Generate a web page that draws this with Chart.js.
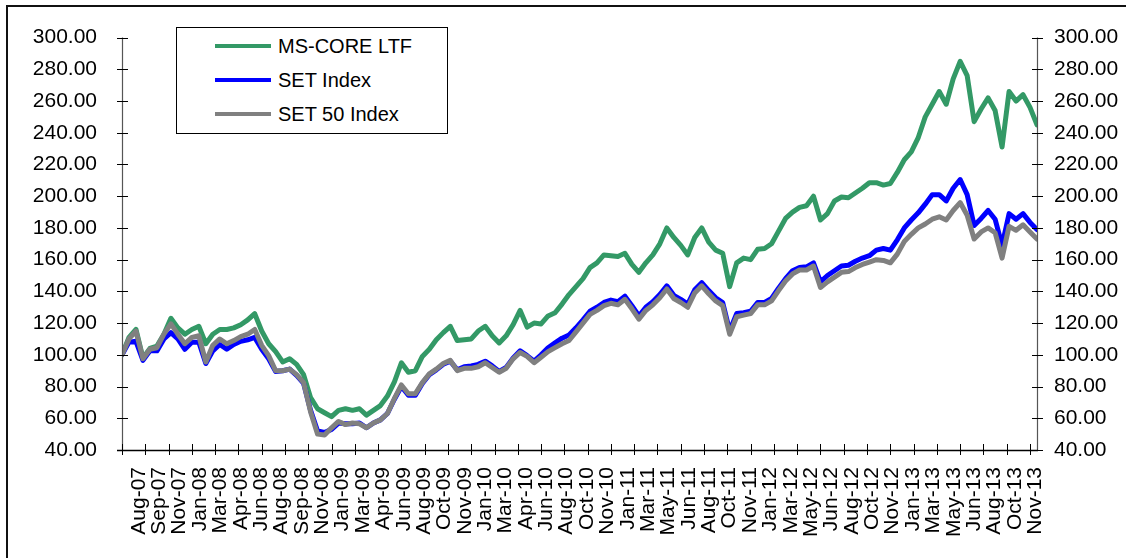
<!DOCTYPE html>
<html><head><meta charset="utf-8">
<script src="https://cdn.jsdelivr.net/npm/chart.js@4.4.1/dist/chart.umd.min.js"></script>
<style>
html,body{margin:0;padding:0;background:#fff;overflow:hidden;width:1126px;height:558px;}
#wrap{position:relative;width:1126px;height:558px;overflow:hidden;}
#frame{position:absolute;left:6px;top:5px;width:1300px;height:800px;border-left:2px solid #111;border-top:2px solid #111;pointer-events:none;}
canvas{position:absolute;left:0;top:0;}
#legend{position:absolute;left:176px;top:27px;width:272px;height:107px;border:1px solid #000;background:#fff;box-sizing:border-box;font:20px 'Liberation Sans',Arial,sans-serif;color:#000;}
.item{position:absolute;left:38px;height:30px;display:flex;align-items:center;white-space:nowrap;}
.swatch{width:56px;height:4px;margin-right:7px;}
</style></head>
<body><div id="wrap"><div id="frame"></div><canvas id="c" width="1126" height="558"></canvas><div id="legend"></div></div>
<script>
const seriesNames = ['MS-CORE LTF', 'SET Index', 'SET 50 Index'];

const msCore = [
 100, 111, 116, 98, 104, 105.5, 113, 123, 117, 113,
 116, 118, 107, 113, 116, 116, 117, 119, 122, 126,
 115, 107, 102, 95.5, 97.5, 94, 87.5, 73, 66, 63.5,
 61, 65, 66, 65, 66, 62, 65, 68, 74, 83,
 95, 89, 90, 99, 103.5, 109.5, 114, 118, 109, 109.5,
 110, 115, 118, 112, 107.5, 112, 119, 128, 117.5, 120,
 119.5, 124.5, 126.5, 132, 138, 143, 148, 155, 158, 163,
 162.5, 162, 164, 157, 152, 158, 163, 170, 180, 174,
 169, 163, 174, 180, 171, 166, 164, 143, 158, 161,
 160, 166.5, 167, 170, 178, 186, 190, 193, 194, 200,
 185, 189, 197, 199.5, 199, 202, 205, 208.5, 208.5, 207,
 208, 215, 223, 228, 237, 250, 258, 266, 258, 274,
 285, 276, 247, 255, 262, 254, 231, 266, 260, 264,
 256, 245
];

const setIndex = [
 100, 108, 108.5, 96.5, 102.5, 102.5, 110, 114, 110, 103.5,
 108, 108, 94.5, 102.5, 106.5, 103.5, 106.5, 108.5, 109.5, 111,
 103.5, 97.5, 89.5, 90, 91, 87, 82, 65, 52, 51,
 53, 57, 56.5, 56.5, 57, 54, 57, 59, 63, 72,
 80, 74.5, 74.5, 82, 87.5, 90.5, 94, 96, 90.5, 92.5,
 93, 94, 96, 93, 89.5, 92, 98, 102.5, 99.5, 96,
 100, 104.5, 107.5, 110.5, 112.5, 117, 122, 127.5, 130, 133,
 134.5, 133.5, 137, 131, 124.5, 130, 133.5, 138, 143.5, 137.5,
 135, 132, 141, 145.5, 140.5, 136, 133, 115, 126, 126.5,
 127.5, 133, 133, 135.5, 142, 148, 153, 155, 155.5, 158,
 146, 150, 153, 156, 156.5, 159, 161, 162.5, 166, 167,
 166, 172.5, 180, 185, 189.5, 195, 201, 201, 197, 205,
 210.5, 201, 181.5, 186, 191, 185.5, 169, 189, 185.5, 189,
 183.5, 179
];

const set50 = [
 100, 110, 115, 97.5, 103.5, 104.5, 113, 119.5, 113, 107,
 111, 112, 95.5, 106, 110, 107, 109, 111.5, 113, 116,
 106, 99.5, 90, 90, 91, 87.5, 82.5, 64, 50, 49.5,
 54, 58, 56, 57, 56.5, 54, 57, 59, 63, 72.5,
 81, 75.5, 75.5, 82.5, 88, 91, 94.5, 96.5, 90, 91.5,
 91.5, 92.5, 95, 92, 89, 91.5, 97.5, 101.5, 99, 95,
 98.5, 102, 104.5, 107, 109, 114.5, 120, 125.5, 128, 131,
 132.5, 131.5, 135, 129, 122.5, 128, 131.5, 136, 141.5, 135.5,
 133, 130, 139, 143.5, 138.5, 134, 131, 113, 124, 125,
 126, 131.5, 131.5, 134, 140.5, 146.5, 151, 153.5, 153.5, 156,
 142.5, 146, 149, 152, 152.5, 155, 157, 158.5, 160, 159.5,
 158, 163.5, 171.5, 176, 180, 182.5, 185.5, 187, 185, 191,
 196, 188, 173, 177.5, 180, 177, 161, 181, 178.5, 182,
 177.5, 173
];

const xLabels = [
 'Aug-07','Sep-07','Nov-07','Jan-08','Mar-08','Apr-08','Jun-08','Aug-08','Sep-08','Nov-08',
 'Jan-09','Mar-09','Apr-09','Jun-09','Aug-09','Oct-09','Nov-09','Jan-10','Mar-10','Apr-10',
 'Jun-10','Aug-10','Oct-10','Nov-10','Jan-11','Mar-11','May-11','Jun-11','Aug-11','Oct-11',
 'Nov-11','Jan-12','Mar-12','May-12','Jun-12','Aug-12','Oct-12','Nov-12','Jan-13','Mar-13',
 'May-13','Jun-13','Aug-13','Oct-13','Nov-13'
];

const colors = ['#339966', '#0000FF', '#808080'];

// x axis is measured in trading days; readings every 12 trading days
const sampleStep = 12;
const labelStart = 29, labelStep = 35;   // category label interval
const tickStep = 40;                      // tick-mark interval
const yMin = 40, yMax = 300, yStep = 20;

const days = msCore.map((_, i) => i * sampleStep);
const xMax = days[days.length - 1];
const labelDays = xLabels.map((_, j) => labelStart + j * labelStep);

const font = { family: "'Liberation Sans', Arial, sans-serif", size: 21 };

function mk(label, vals, color, order) {
  return {
    label, order, yAxisID: 'y', xAxisID: 'x',
    data: vals.map((v, i) => ({ x: days[i], y: v })),
    borderColor: color, backgroundColor: color,
    borderWidth: 5, pointRadius: 0, tension: 0,
    borderJoinStyle: 'round', borderCapStyle: 'round'
  };
}

const axisPlugin = {
  id: 'excelAxes',
  afterDatasetsDraw(chart) {
    const { ctx, chartArea: { left, right, top, bottom }, scales: { x, y } } = chart;
    ctx.save();
    ctx.lineWidth = 1.2;
    ctx.strokeStyle = '#555';
    ctx.beginPath();
    ctx.moveTo(left + 0.5, top); ctx.lineTo(left + 0.5, bottom);
    ctx.moveTo(right + 0.5, top); ctx.lineTo(right + 0.5, bottom);
    ctx.stroke();
    ctx.strokeStyle = '#000';
    ctx.lineWidth = 1;
    ctx.beginPath();
    y.ticks.forEach(t => {
      const py = Math.round(y.getPixelForValue(t.value)) + 0.5;
      ctx.moveTo(left - 5, py); ctx.lineTo(left + 6, py);
      ctx.moveTo(right - 5, py); ctx.lineTo(right + 6, py);
    });
    for (let d = 0; d <= x.max; d += tickStep) {
      const px = Math.round(x.getPixelForValue(d)) + 0.5;
      ctx.moveTo(px, bottom - 6); ctx.lineTo(px, bottom + 5);
    }
    ctx.stroke();
    ctx.lineWidth = 1.3;
    ctx.beginPath();
    ctx.moveTo(left - 5, bottom + 0.5); ctx.lineTo(right + 1, bottom + 0.5);
    ctx.stroke();
    ctx.restore();
  }
};

const yTicksOpts = (pad) => ({
  stepSize: yStep, padding: pad, color: '#000', font,
  callback: v => Number(v).toFixed(2)
});

const chart = new Chart(document.getElementById('c'), {
  type: 'line',
  data: {
    datasets: [
      mk(seriesNames[0], msCore, colors[0], 3),
      mk(seriesNames[1], setIndex, colors[1], 2),
      mk(seriesNames[2], set50, colors[2], 1)
    ]
  },
  options: {
    responsive: false, animation: false, devicePixelRatio: 1,
    layout: { padding: { top: 25, left: 0, right: 0, bottom: 0 } },
    plugins: { legend: { display: false }, tooltip: { enabled: false } },
    scales: {
      x: {
        type: 'linear', position: 'bottom', min: 0, max: xMax,
        grid: { display: false, drawTicks: false }, border: { display: false },
        afterBuildTicks: s => { s.ticks = labelDays.map(v => ({ value: v })); },
        afterFit: s => { s.height = 108; },
        ticks: {
          autoSkip: false, minRotation: 90, maxRotation: 90, padding: 17,
          color: '#000', font, callback: (v, i) => xLabels[i]
        }
      },
      y: {
        position: 'left', min: yMin, max: yMax,
        grid: { display: false, drawTicks: false }, border: { display: false },
        afterFit: s => { s.width = 122; },
        ticks: yTicksOpts(25)
      },
      y2: {
        position: 'right', display: true, min: yMin, max: yMax,
        grid: { display: false, drawTicks: false }, border: { display: false },
        afterFit: s => { s.width = 89; },
        ticks: yTicksOpts(17)
      }
    }
  },
  plugins: [axisPlugin]
});

// legend built from the chart's own datasets
const leg = document.getElementById('legend');
chart.data.datasets.forEach((ds, j) => {
  const it = document.createElement('div');
  it.className = 'item';
  it.style.top = (3 + 34 * j) + 'px';
  const sw = document.createElement('span');
  sw.className = 'swatch';
  sw.style.background = ds.borderColor;
  const tx = document.createElement('span');
  tx.textContent = ds.label;
  it.appendChild(sw); it.appendChild(tx);
  leg.appendChild(it);
});
</script>
</body></html>
